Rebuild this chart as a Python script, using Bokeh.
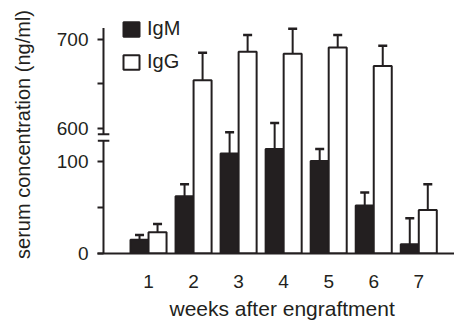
from bokeh.plotting import figure
from bokeh.models import ColumnDataSource, FixedTicker, Legend, LegendItem, Title
from bokeh.transform import dodge
from bokeh.embed import file_html
from bokeh.resources import INLINE

# ---- data ----
weeks = [1, 2, 3, 4, 5, 6, 7]
igm = [15, 62, 108, 113, 100, 52, 10]
igm_sd = [5, 13, 23, 28, 13, 14, 28]
igg = [23, 654, 686, 684, 691, 670, 47]
igg_sd = [9, 31, 19, 28, 14, 23, 28]

y_ticks = [0, 50, 100, 600, 650, 700]
y_tick_labels = ["0", "", "100", "600", "", "700"]

# ---- broken y-axis mapping ----
BREAK_VALUE = 300          # values above this are drawn on the upper segment
UPPER_ORIGIN = 135.6       # plot position of value 600
UPPER_SCALE = 0.958        # upper segment scale relative to lower
LOWER_AXIS_TOP = 122
UPPER_AXIS_BOTTOM = 593
UPPER_AXIS_TOP = 713


def brk(v):
    if v < BREAK_VALUE:
        return v
    return round(UPPER_ORIGIN + (v - 600) * UPPER_SCALE, 2)


INK = "#231f20"
FONT = "Liberation Sans"
BAR_W = 0.40
OFF = 0.20
CAP = 0.10

src = ColumnDataSource(dict(
    week=weeks,
    igm_top=[brk(v) for v in igm],
    igm_err=[brk(v + e) for v, e in zip(igm, igm_sd)],
    igg_top=[brk(v) for v in igg],
    igg_err=[brk(v + e) for v, e in zip(igg, igg_sd)],
))

p = figure(width=454, height=325, x_range=(-0.133, 7.793), y_range=(0, 257.3),
           output_backend="svg", toolbar_location=None,
           min_border_left=97, min_border_right=0, min_border_top=15, min_border_bottom=72)
p.xgrid.visible = False
p.ygrid.visible = False
p.outline_line_color = None

r_igm = p.vbar(x=dodge("week", -OFF, range=p.x_range), top="igm_top", width=BAR_W, source=src,
               fill_color=INK, line_color=INK, line_width=2)
r_igg = p.vbar(x=dodge("week", OFF, range=p.x_range), top="igg_top", width=BAR_W, source=src,
               fill_color="white", line_color=INK, line_width=2)

for off, top, err in [(-OFF, "igm_top", "igm_err"), (OFF, "igg_top", "igg_err")]:
    p.segment(x0=dodge("week", off, range=p.x_range), x1=dodge("week", off, range=p.x_range),
              y0=top, y1=err, source=src, line_color=INK, line_width=2)
    p.segment(x0=dodge("week", off - CAP, range=p.x_range), x1=dodge("week", off + CAP, range=p.x_range),
              y0=err, y1=err, source=src, line_color=INK, line_width=2.5)

# y axis line with a break
ax_x = 0
p.segment(x0=[ax_x, ax_x], x1=[ax_x, ax_x],
          y0=[0, brk(UPPER_AXIS_BOTTOM)], y1=[LOWER_AXIS_TOP, brk(UPPER_AXIS_TOP)],
          line_color=INK, line_width=2)
p.segment(x0=[ax_x - 0.13] * 2, x1=[ax_x + 0.13] * 2,
          y0=[LOWER_AXIS_TOP, brk(UPPER_AXIS_BOTTOM)], y1=[LOWER_AXIS_TOP, brk(UPPER_AXIS_BOTTOM)],
          line_color=INK, line_width=2)

yt = [brk(t) for t in y_ticks]
p.yaxis.ticker = FixedTicker(ticks=yt)
p.yaxis.major_label_overrides = {t: lab for t, lab in zip(yt, y_tick_labels)}
p.yaxis.axis_line_color = None
p.yaxis.major_tick_in = 6
p.yaxis.major_tick_out = 0
p.yaxis.major_tick_line_width = 2
p.yaxis.major_tick_line_color = INK
p.yaxis.minor_tick_line_color = None
p.yaxis.major_label_standoff = 9
p.yaxis.axis_label = "serum concentration (ng/ml)"
p.yaxis.axis_label_standoff = 20

p.xaxis.ticker = FixedTicker(ticks=weeks)
p.xaxis.axis_line_width = 2
p.xaxis.axis_line_color = INK
p.xaxis.major_tick_in = 0
p.xaxis.major_tick_out = 0
p.xaxis.minor_tick_line_color = None
p.xaxis.major_label_standoff = 21

for ax in (p.xaxis, p.yaxis):
    ax.major_label_text_font = FONT
    ax.major_label_text_font_size = "19px"
    ax.major_label_text_color = INK
    ax.axis_label_text_font = FONT
    ax.axis_label_text_font_size = "20px"
    ax.axis_label_text_font_style = "normal"
    ax.axis_label_text_color = INK

p.add_layout(Title(text="weeks after  engraftment", align="left", offset=72,
                   text_font=FONT, text_font_size="21px", text_font_style="normal",
                   text_color=INK, standoff=9), "below")

legend = Legend(items=[LegendItem(label="IgM", renderers=[r_igm]),
                       LegendItem(label="IgG", renderers=[r_igg])],
                location=(24, 180), glyph_width=20, glyph_height=18, label_height=18,
                spacing=10, padding=0, margin=0, label_standoff=6,
                border_line_color=None, background_fill_alpha=0,
                label_text_font=FONT, label_text_font_size="20px", label_text_color=INK)
p.add_layout(legend)

open("out.html", "w").write(file_html(p, INLINE))
